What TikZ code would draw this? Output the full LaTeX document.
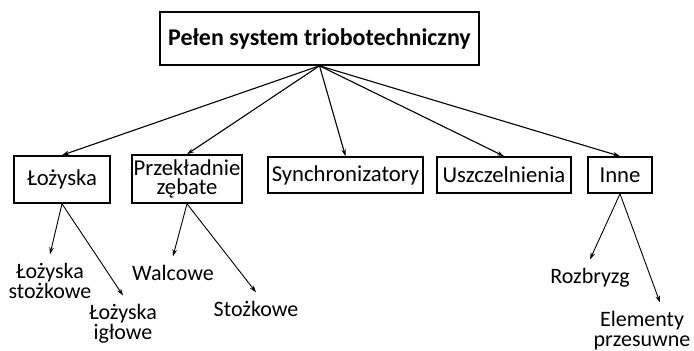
\documentclass[tikz,border=0pt]{standalone}
\usepackage{fontspec}
\setmainfont{Carlito}
\usetikzlibrary{arrows.meta}
\begin{document}
\begin{tikzpicture}[
        x=1pt, y=-1pt,
        >={Stealth[length=7pt,width=4.5pt]},
        font=\fontsize{22}{20}\selectfont,
        rootbox/.style={rectangle, draw, line width=1.6pt, font=\bfseries\fontsize{24}{20}\selectfont, minimum width=319pt, minimum height=53pt},
        groupbox/.style={rectangle, draw, line width=1.6pt, inner sep=2pt, minimum height=36pt, align=center, font=\fontsize{22.7}{20}\selectfont},
        leaf/.style={align=center, inner sep=0pt, outer ysep=9pt},
        branch/.style={->, line width=1.1pt},
        twig/.style={->, line width=0.9pt}
    ]
        \useasboundingbox (0,0) rectangle (694,351);

        % Top level
        \node[rootbox] (root) at (319.5,38.5) {Pełen system triobotechniczny};

        % Groups
        \node[groupbox, minimum width=96pt, minimum height=47pt] (lozyska) at (62,179.5) {Łożyska};
        \node[groupbox, minimum width=108pt, minimum height=48pt, font=\fontsize{22.7}{19}\selectfont] (przekladnie) at (187,179) {Przekładnie\\zębate};
        \node[groupbox, minimum width=155pt] (synchro) at (345.5,175) {Synchronizatory};
        \node[groupbox, minimum width=134pt] (uszczel) at (504,175) {Uszczelnienia};
        \node[groupbox, minimum width=64pt] (inne) at (620,175) {Inne};

        \draw[branch] (root.south) -- (lozyska.north);
        \draw[branch] (root.south) -- (przekladnie.north);
        \draw[branch] (root.south) -- (synchro.north);
        \draw[branch] (root.south) -- (uszczel.north);
        \draw[branch] (root.south) -- (inne.north);

        % Leaves
        \node[leaf] (lstozkowe) at (50,281) {Łożyska\\stożkowe};
        \node[leaf] (liglowe) at (123,324) {Łożyska\\igłowe};
        \node[leaf] (walcowe) at (173,273) {Walcowe};
        \node[leaf] (stozkowe) at (256,309) {Stożkowe};
        \node[leaf] (rozbryzg) at (590,278) {Rozbryzg};
        \node[leaf] (elementy) at (642,331) {Elementy\\przesuwne};

        \draw[twig] (lozyska.south) -- (lstozkowe.north);
        \draw[twig] (lozyska.south) -- (liglowe.north);
        \draw[twig] (przekladnie.south) -- (walcowe.north);
        \draw[twig] (przekladnie.south) -- (stozkowe.north);
        \draw[twig] (inne.south) -- (rozbryzg.north);
        \draw[twig] (inne.south) -- ([xshift=18pt]elementy.north);

\end{tikzpicture}
\end{document}
